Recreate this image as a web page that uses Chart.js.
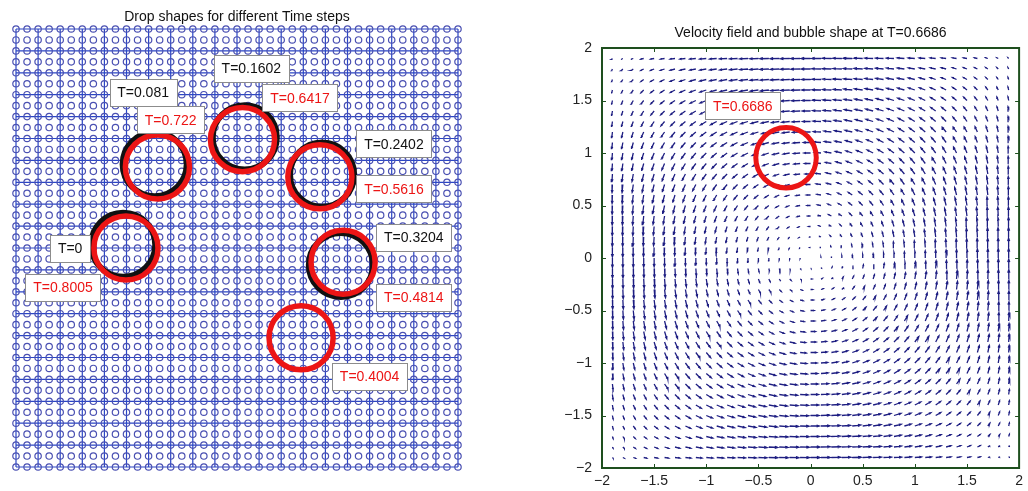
<!DOCTYPE html>
<html>
<head>
<meta charset="utf-8">
<script src="https://cdn.jsdelivr.net/npm/chart.js@4.4.0/dist/chart.umd.min.js"></script>
<style>
  body { margin: 0; background: #fff; width: 1028px; height: 491px; overflow: hidden; position: relative; }
  .panel { position: absolute; top: 0; height: 491px; }
  #dropWrap { left: 0; width: 475px; }
  #fieldWrap { left: 540px; width: 488px; }
</style>
</head>
<body>
<div class="panel" id="dropWrap"><canvas id="dropChart"></canvas></div>
<div class="panel" id="fieldWrap"><canvas id="fieldChart"></canvas></div>
<script>
// ---- left panel: drop positions on the computational mesh ----
const MESH_N = 40;      // nodes 0..40 in each direction
const LINE_STEP = 2;    // coarse lines on every second node

// black rings: forward run
const forwardTimes = ['0', '0.081', '0.1602', '0.2402', '0.3204'];
const forwardX = [9.7, 12.55, 20.7, 27.7, 29.4];
const forwardY = [20.3, 27.65, 30.1, 26.7, 18.45];
const forwardTagX = [4.9, 11.5, 21.3, 34.2, 36.0];
const forwardTagY = [20.0, 34.2, 36.4, 29.5, 21.0];

// red rings: reversed run
const backwardTimes = ['0.4004', '0.4814', '0.5616', '0.6417', '0.722', '0.8005'];
const backwardX = [25.8, 29.6, 27.5, 20.5, 12.8, 9.95];
const backwardY = [11.8, 18.7, 26.5, 29.9, 27.4, 20.0];
const backwardTagX = [32.0, 36.0, 34.2, 25.7, 14.0, 4.25];
const backwardTagY = [8.3, 15.5, 25.4, 33.7, 31.7, 16.4];

const dropRadius = 2.9;

// ---- right panel: velocity field ----
const fieldTicks = [-2, -1.5, -1, -0.5, 0, 0.5, 1, 1.5, 2];
const fieldPts = [-1.9, -1.8, -1.7, -1.6, -1.5, -1.4, -1.3, -1.2, -1.1, -1.0,
  -0.9, -0.8, -0.7, -0.6, -0.5, -0.4, -0.3, -0.2, -0.1, 0,
  0.1, 0.2, 0.3, 0.4, 0.5, 0.6, 0.7, 0.8, 0.9, 1.0,
  1.1, 1.2, 1.3, 1.4, 1.5, 1.6, 1.7, 1.8, 1.9];
// separable vortex cell: u = along(x)*cross(y), v = -cross(x)*along(y)
const alongProfile = [0.08, 0.16, 0.23, 0.31, 0.38, 0.45, 0.52, 0.59, 0.65, 0.71,
  0.76, 0.81, 0.85, 0.89, 0.92, 0.95, 0.97, 0.99, 1.00, 1.00,
  1.00, 0.99, 0.97, 0.95, 0.92, 0.89, 0.85, 0.81, 0.76, 0.71,
  0.65, 0.59, 0.52, 0.45, 0.38, 0.31, 0.23, 0.16, 0.08];
const crossProfile = [1.00, 0.99, 0.97, 0.95, 0.92, 0.89, 0.85, 0.81, 0.76, 0.71,
  0.65, 0.59, 0.52, 0.45, 0.38, 0.31, 0.23, 0.16, 0.08, 0,
  -0.08, -0.16, -0.23, -0.31, -0.38, -0.45, -0.52, -0.59, -0.65, -0.71,
  -0.76, -0.81, -0.85, -0.89, -0.92, -0.95, -0.97, -0.99, -1.00];

const bubbleTime = '0.6686';
const bubbleX = [-0.235];
const bubbleY = [0.955];
const bubbleRadius = 0.29;
const bubbleTagX = -0.65;
const bubbleTagY = 1.45;

const FONT = '"Liberation Sans", Arial, Helvetica, sans-serif';
const RED = '#ec1515';

function makeTagPlugin(tags) {
    return {
        id: 'timeTags',
        afterDatasetsDraw(chart) {
            const { ctx, scales: { x, y } } = chart;
            ctx.save();
            ctx.font = '14px ' + FONT;
            ctx.textAlign = 'center';
            ctx.textBaseline = 'middle';
            tags.forEach(tag => {
                const px = x.getPixelForValue(tag.x);
                const py = y.getPixelForValue(tag.y);
                const w = Math.round(ctx.measureText(tag.text).width + 15);
                const h = 27;
                const left = Math.round(px - w / 2) + 0.5;
                const top = Math.round(py - h / 2) + 0.5;
                ctx.fillStyle = '#fff';
                ctx.fillRect(left, top, w, h);
                ctx.strokeStyle = '#8c8c8c';
                ctx.lineWidth = 1;
                ctx.strokeRect(left, top, w, h);
                ctx.fillStyle = tag.color;
                ctx.fillText(tag.text, px, py + 1);
            });
            ctx.restore();
        }
    };
}

function pixelRadius(chart, r) {
    const x = chart.scales.x;
    return Math.abs(x.getPixelForValue(r) - x.getPixelForValue(0));
}

// ---------------- left chart ----------------
const meshNodes = [];
for (let i = 0; i <= MESH_N; i++) {
    for (let j = 0; j <= MESH_N; j++) meshNodes.push({ x: i, y: j });
}
const meshLines = [];
for (let k = 0; k <= MESH_N; k += LINE_STEP) {
    meshLines.push({ x: k, y: 0 }, { x: k, y: MESH_N }, { x: k, y: null });
    meshLines.push({ x: 0, y: k }, { x: MESH_N, y: k }, { x: 0, y: null });
}

// lower "order" is painted later, i.e. on top
const ringDataset = (xs, ys, color, width, order) => ({
    type: 'scatter',
    order,
    data: xs.map((x, i) => ({ x, y: ys[i] })),
    pointStyle: 'circle',
    backgroundColor: 'rgba(0,0,0,0)',
    borderColor: color,
    borderWidth: width,
    pointRadius: ctx => pixelRadius(ctx.chart, dropRadius),
    clip: false
});

const dropTags = [
    ...forwardTimes.map((t, i) => ({ text: 'T=' + t, x: forwardTagX[i], y: forwardTagY[i], color: '#111' })),
    ...backwardTimes.map((t, i) => ({ text: 'T=' + t, x: backwardTagX[i], y: backwardTagY[i], color: RED }))
];

new Chart(document.getElementById('dropChart'), {
    type: 'scatter',
    data: {
        datasets: [
            {
                order: 4,
                data: meshLines,
                showLine: true,
                spanGaps: false,
                pointRadius: 0,
                borderColor: '#2a46c6',
                borderWidth: 1.2,
                clip: false
            },
            {
                order: 3,
                data: meshNodes,
                pointStyle: 'circle',
                pointRadius: 3.2,
                backgroundColor: 'rgba(0,0,0,0)',
                borderColor: '#4a50b2',
                borderWidth: 1.2,
                clip: false
            },
            ringDataset(forwardX, forwardY, '#111', 6, 2),
            ringDataset(backwardX, backwardY, RED, 5.5, 1)
        ]
    },
    options: {
        responsive: true,
        maintainAspectRatio: false,
        animation: false,
        events: [],
        layout: { padding: { left: 16, right: 17, top: 0, bottom: 24 } },
        scales: {
            x: { type: 'linear', min: 0, max: MESH_N, display: false },
            y: { type: 'linear', min: 0, max: MESH_N, display: false }
        },
        plugins: {
            legend: { display: false },
            tooltip: { enabled: false },
            title: {
                display: true,
                fullSize: false,
                text: 'Drop shapes for different Time steps',
                color: '#111',
                font: { family: FONT, size: 14, weight: 'normal' },
                padding: { top: 8.6, bottom: 3.6 }
            }
        }
    },
    plugins: [makeTagPlugin(dropTags)]
});

// ---------------- right chart ----------------
const ARROW_SCALE = 0.09;
const HEAD_ALPHA = 0.33, HEAD_BETA = 0.33;
const arrows = [];
fieldPts.forEach((x, i) => {
    fieldPts.forEach((y, j) => {
        const u = ARROW_SCALE * alongProfile[i] * crossProfile[j];
        const v = -ARROW_SCALE * crossProfile[i] * alongProfile[j];
        if (u === 0 && v === 0) return;
        const tx = x + u, ty = y + v;
        arrows.push({ x, y }, { x: tx, y: ty }, { x, y: null });
        arrows.push(
            { x: tx - HEAD_ALPHA * (u + HEAD_BETA * v), y: ty - HEAD_ALPHA * (v - HEAD_BETA * u) },
            { x: tx, y: ty },
            { x: tx - HEAD_ALPHA * (u - HEAD_BETA * v), y: ty - HEAD_ALPHA * (v + HEAD_BETA * u) },
            { x, y: null }
        );
    });
});

const frameColor = '#1e4f1e';
const framePlugin = {
    id: 'matlabFrame',
    afterDraw(chart) {
        const { ctx, chartArea: a, scales: { x, y } } = chart;
        ctx.save();
        ctx.strokeStyle = frameColor;
        ctx.lineWidth = 1;
        ctx.beginPath();
        fieldTicks.forEach(t => {
            const px = Math.round(x.getPixelForValue(t)) + 0.5;
            const py = Math.round(y.getPixelForValue(t)) + 0.5;
            ctx.moveTo(px, a.bottom); ctx.lineTo(px, a.bottom - 4);
            ctx.moveTo(px, a.top); ctx.lineTo(px, a.top + 4);
            ctx.moveTo(a.left, py); ctx.lineTo(a.left + 4, py);
            ctx.moveTo(a.right, py); ctx.lineTo(a.right - 4, py);
        });
        ctx.stroke();
        ctx.lineWidth = 2;
        ctx.strokeRect(a.left, a.top, a.right - a.left, a.bottom - a.top);
        ctx.restore();
    }
};

const tickLabel = v => String(v).replace('-', '\u2212');

new Chart(document.getElementById('fieldChart'), {
    type: 'scatter',
    data: {
        datasets: [
            {
                order: 2,
                data: arrows,
                showLine: true,
                spanGaps: false,
                pointRadius: 0,
                borderColor: '#1e1e82',
                borderWidth: 1.3,
                clip: false
            },
            {
                order: 1,
                data: bubbleX.map((x, i) => ({ x, y: bubbleY[i] })),
                pointStyle: 'circle',
                backgroundColor: 'rgba(0,0,0,0)',
                borderColor: RED,
                borderWidth: 5,
                pointRadius: ctx => pixelRadius(ctx.chart, bubbleRadius),
                clip: false
            }
        ]
    },
    options: {
        responsive: true,
        maintainAspectRatio: false,
        animation: false,
        events: [],
        layout: { padding: { left: 0, right: 5, top: 0, bottom: 0 } },
        scales: {
            x: {
                type: 'linear', min: -2, max: 2,
                afterFit: s => { s.height = 23; },
                afterBuildTicks: s => { s.ticks = fieldTicks.map(value => ({ value })); },
                grid: { display: false, drawTicks: false },
                border: { display: false },
                ticks: { callback: tickLabel, padding: 5, color: '#222', maxRotation: 0, autoSkip: false, font: { family: FONT, size: 14 } }
            },
            y: {
                type: 'linear', min: -2, max: 2,
                afterFit: s => { s.width = 62; },
                afterBuildTicks: s => { s.ticks = fieldTicks.map(value => ({ value })); },
                grid: { display: false, drawTicks: false },
                border: { display: false },
                ticks: { callback: tickLabel, padding: 10, color: '#222', autoSkip: false, font: { family: FONT, size: 14 } }
            }
        },
        plugins: {
            legend: { display: false },
            tooltip: { enabled: false },
            title: {
                display: true,
                fullSize: false,
                text: 'Velocity field and bubble shape at T=' + bubbleTime,
                color: '#111',
                font: { family: FONT, size: 14, weight: 'normal' },
                padding: { top: 24.6, bottom: 6.6 }
            }
        }
    },
    plugins: [framePlugin, makeTagPlugin([{ text: 'T=' + bubbleTime, x: bubbleTagX, y: bubbleTagY, color: RED }])]
});
</script>
</body>
</html>
